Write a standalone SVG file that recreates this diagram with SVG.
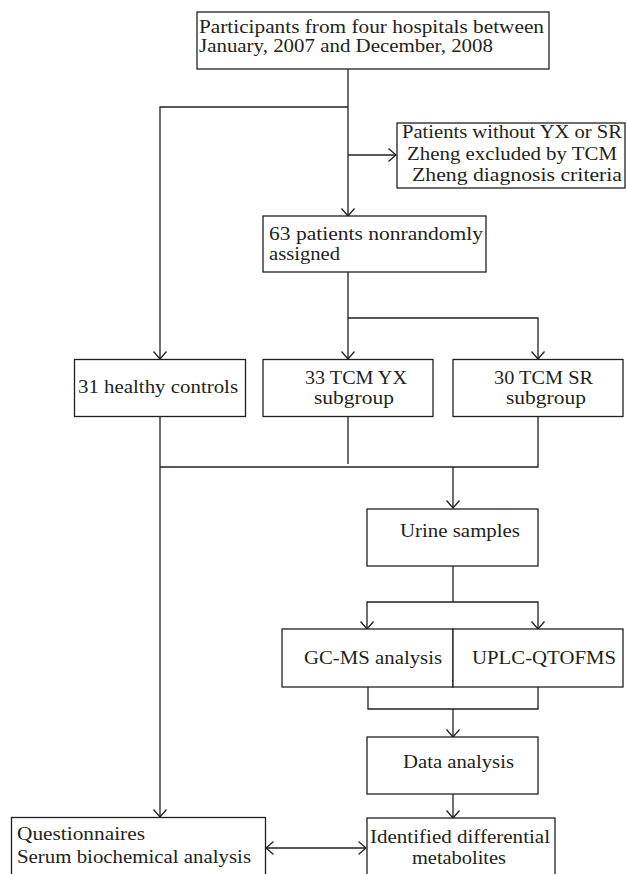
<svg xmlns="http://www.w3.org/2000/svg" width="627" height="874" viewBox="0 0 627 874">
<style>
rect{fill:#fff;stroke:#231f20;stroke-width:1.3}
.c path{fill:none;stroke:#231f20;stroke-width:1.3}
text{font-family:"Liberation Serif","Times New Roman",serif;font-size:19.5px;fill:#231f20}
</style>
<defs>
<marker id="a" markerUnits="userSpaceOnUse" markerWidth="10" markerHeight="16" viewBox="0 0 10 16" refX="8.5" refY="8" orient="auto-start-reverse">
<path d="M1,1.5 L8.5,8 L1,14.5" fill="none" stroke="#231f20" stroke-width="1.3"/>
</marker>
</defs>
<rect width="627" height="874" style="fill:#fff;stroke:none"/>
<g class="c" id="connectors">
<path d="M348,69 V216" marker-end="url(#a)"/>
<path d="M348,107 H160 V359" marker-end="url(#a)"/>
<path d="M348,155 H396" marker-end="url(#a)"/>
<path d="M348,272 V359" marker-end="url(#a)"/>
<path d="M348,318 H538 V359" marker-end="url(#a)"/>
<path d="M160,416 V817" marker-end="url(#a)"/>
<path d="M348,416 V464"/>
<path d="M538,416 V467 H160"/>
<path d="M453,467 V508" marker-end="url(#a)"/>
<path d="M453,566 V602"/>
<path d="M453,602 H367 V629" marker-end="url(#a)"/>
<path d="M453,602 H538 V629" marker-end="url(#a)"/>
<path d="M368,687 V709 H538 V687"/>
<path d="M453,709 V737" marker-end="url(#a)"/>
<path d="M453,794 V818" marker-end="url(#a)"/>
<path d="M266,848 H366" marker-start="url(#a)" marker-end="url(#a)"/>
</g>
<g id="participants">
<rect x="197" y="12" width="352" height="57"/>
<text x="199" y="33" textLength="345" lengthAdjust="spacingAndGlyphs">Participants from four hospitals between</text>
<text x="199" y="52" textLength="294" lengthAdjust="spacingAndGlyphs">January, 2007 and December, 2008</text>
</g>
<g id="excluded">
<rect x="397" y="123" width="228" height="65"/>
<text x="402" y="138" textLength="220" lengthAdjust="spacingAndGlyphs">Patients without YX or SR</text>
<text x="407" y="160" textLength="210" lengthAdjust="spacingAndGlyphs">Zheng excluded by TCM</text>
<text x="412" y="181" textLength="210" lengthAdjust="spacingAndGlyphs">Zheng diagnosis criteria</text>
</g>
<g id="assigned">
<rect x="263" y="216" width="223" height="56"/>
<text x="269" y="240" textLength="214" lengthAdjust="spacingAndGlyphs">63 patients nonrandomly</text>
<text x="269" y="260" textLength="71" lengthAdjust="spacingAndGlyphs">assigned</text>
</g>
<g id="healthy">
<rect x="74.5" y="359.5" width="171" height="57"/>
<text x="78" y="393" textLength="160" lengthAdjust="spacingAndGlyphs">31 healthy controls</text>
</g>
<g id="yx">
<rect x="263" y="359.5" width="170" height="57"/>
<text x="305" y="384" textLength="102" lengthAdjust="spacingAndGlyphs">33 TCM YX</text>
<text x="314" y="404" textLength="80" lengthAdjust="spacingAndGlyphs">subgroup</text>
</g>
<g id="sr">
<rect x="453" y="359.5" width="170" height="57"/>
<text x="494" y="384" textLength="99" lengthAdjust="spacingAndGlyphs">30 TCM SR</text>
<text x="506" y="404" textLength="80" lengthAdjust="spacingAndGlyphs">subgroup</text>
</g>
<g id="urine">
<rect x="367" y="509" width="171" height="57"/>
<text x="400" y="537" textLength="120" lengthAdjust="spacingAndGlyphs">Urine samples</text>
</g>
<g id="gcms">
<rect x="282" y="629" width="171" height="58"/>
<text x="304" y="664" textLength="138" lengthAdjust="spacingAndGlyphs">GC-MS analysis</text>
</g>
<g id="uplc">
<rect x="453" y="629" width="170" height="58"/>
<text x="472" y="664" textLength="144" lengthAdjust="spacingAndGlyphs">UPLC-QTOFMS</text>
</g>
<g id="data">
<rect x="367" y="737" width="171" height="57"/>
<text x="403" y="768" textLength="111" lengthAdjust="spacingAndGlyphs">Data analysis</text>
</g>
<g id="questionnaires">
<rect x="11.5" y="817.5" width="254" height="70"/>
<text x="17" y="840" textLength="128" lengthAdjust="spacingAndGlyphs">Questionnaires</text>
<text x="17" y="863" textLength="234" lengthAdjust="spacingAndGlyphs">Serum biochemical analysis</text>
</g>
<g id="identified">
<rect x="367" y="818" width="188" height="70"/>
<text x="370" y="843" textLength="180" lengthAdjust="spacingAndGlyphs">Identified differential</text>
<text x="412" y="864" textLength="94" lengthAdjust="spacingAndGlyphs">metabolites</text>
</g>
</svg>
